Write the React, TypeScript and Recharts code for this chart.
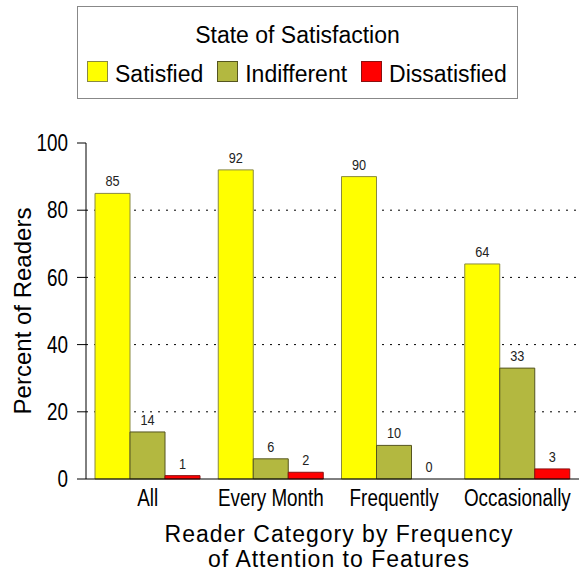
import { BarChart, Bar, XAxis, YAxis, CartesianGrid, LabelList, Rectangle } from "recharts";

const categories = ["All", "Every Month", "Frequently", "Occasionally"];
const satisfied = [85, 92, 90, 64];
const indifferent = [14, 6, 10, 33];
const dissatisfied = [1, 2, 0, 3];
const yTicks = [0, 20, 40, 60, 80, 100];
const gridValues = [20, 40, 60, 80];

const series = [
  { key: "satisfied", name: "Satisfied", fill: "#ffff00", stroke: "#8a8a40" },
  { key: "indifferent", name: "Indifferent", fill: "#b3b840", stroke: "#55551f" },
  { key: "dissatisfied", name: "Dissatisfied", fill: "#ff0000", stroke: "#8b1010" },
];

const data = categories.map((c, i) => ({
  cat: c,
  satisfied: satisfied[i],
  indifferent: indifferent[i],
  dissatisfied: dissatisfied[i],
}));

const SANS = "'Liberation Sans', Arial, sans-serif";
const NARROW = 0.82; // no narrow font installed, squeeze Liberation Sans

function XTick(props: any) {
  const { x, y, payload } = props;
  return (
    <g transform={`translate(${x} ${y}) scale(${NARROW} 1)`}>
      <text x={0} y={0} dy="0.71em" textAnchor="middle" fontFamily={SANS} fontSize={23} fill="#000">
        {payload.value}
      </text>
    </g>
  );
}

function YTick(props: any) {
  const { x, y, payload } = props;
  return (
    <g transform={`translate(${x} ${y}) scale(${NARROW} 1)`}>
      <text x={0} y={0} dy="0.355em" textAnchor="end" fontFamily={SANS} fontSize={23} fill="#000">
        {payload.value}
      </text>
    </g>
  );
}

function ValueLabel(props: any) {
  const { x, y, width, value } = props;
  const cx = x + width / 2;
  return (
    <g transform={`translate(${cx} ${y - 7}) scale(${NARROW} 1)`}>
      <text x={0} y={0} textAnchor="middle" fontFamily={SANS} fontSize={15.5} fill="#222">
        {value}
      </text>
    </g>
  );
}

function BarShape(props: any) {
  if (!props.height || props.height < 0.5) return <g />;
  return <Rectangle {...props} />;
}

function YTitle() {
  return (
    <text
      x={31}
      y={311}
      transform="rotate(-90, 31, 311)"
      textAnchor="middle"
      fontFamily={SANS}
      fontSize={24}
      fill="#000"
    >
      Percent of Readers
    </text>
  );
}

function XTitle() {
  return (
    <text x={339} textAnchor="middle" fontFamily={SANS} fontSize={23} letterSpacing={1} fill="#000">
      <tspan x={339} y={542}>Reader Category by Frequency</tspan>
      <tspan x={339} y={567}>of Attention to Features</tspan>
    </text>
  );
}

function LegendBox() {
  return (
    <div
      style={{
        position: "absolute",
        left: 77,
        top: 6,
        width: 439,
        height: 91,
        border: "1px solid #888",
        background: "#fff",
        fontFamily: SANS,
        color: "#000",
      }}
    >
      <div style={{ position: "absolute", top: 15, left: 0, width: "100%", textAlign: "center", fontSize: 23, lineHeight: "26px" }}>
        State of Satisfaction
      </div>
      <div style={{ position: "absolute", top: 54, left: 9, display: "flex", alignItems: "flex-start", fontSize: 23, lineHeight: "26px" }}>
        {series.map((s, i) => (
          <div key={s.key} style={{ display: "flex", alignItems: "flex-start", marginLeft: i === 0 ? 0 : 14 }}>
            <div style={{ width: 19, height: 19, background: s.fill, border: `1px solid ${s.stroke}` }} />
            <span style={{ marginLeft: 7 }}>{s.name}</span>
          </div>
        ))}
      </div>
    </div>
  );
}

export default function App() {
  return (
    <div style={{ position: "absolute", left: 0, top: 0, width: 579, height: 573, background: "#fff" }}>
      <BarChart
        width={579}
        height={573}
        data={data}
        margin={{ top: 143, right: 0, bottom: 54, left: 0 }}
        barGap={0}
        barCategoryGap={9}
      >
        <CartesianGrid
          horizontal
          vertical={false}
          horizontalValues={gridValues}
          stroke="#000"
          strokeDasharray="2 6"
        />
        <XAxis
          dataKey="cat"
          height={40}
          tickLine={false}
          tickSize={0}
          tickMargin={11}
          axisLine={{ stroke: "#000" }}
          tick={<XTick />}
          interval={0}
        />
        <XAxis
          xAxisId="top"
          orientation="top"
          dataKey="cat"
          height={0}
          tick={false}
          tickLine={false}
          axisLine={{ stroke: "#000" }}
        />
        <YAxis
          width={86}
          domain={[0, 100]}
          ticks={yTicks}
          tickSize={9}
          tickMargin={9}
          axisLine={{ stroke: "#000" }}
          tickLine={{ stroke: "#000" }}
          tick={<YTick />}
        />
        {series.map((s) => (
          <Bar
            key={s.key}
            dataKey={s.key}
            name={s.name}
            fill={s.fill}
            stroke={s.stroke}
            strokeWidth={1}
            minPointSize={(v: number) => (v === 0 ? 0.01 : 0)}
            shape={<BarShape />}
            isAnimationActive={false}
          >
            <LabelList dataKey={s.key} content={<ValueLabel />} />
          </Bar>
        ))}
        <YTitle />
        <XTitle />
      </BarChart>
      <LegendBox />
    </div>
  );
}
